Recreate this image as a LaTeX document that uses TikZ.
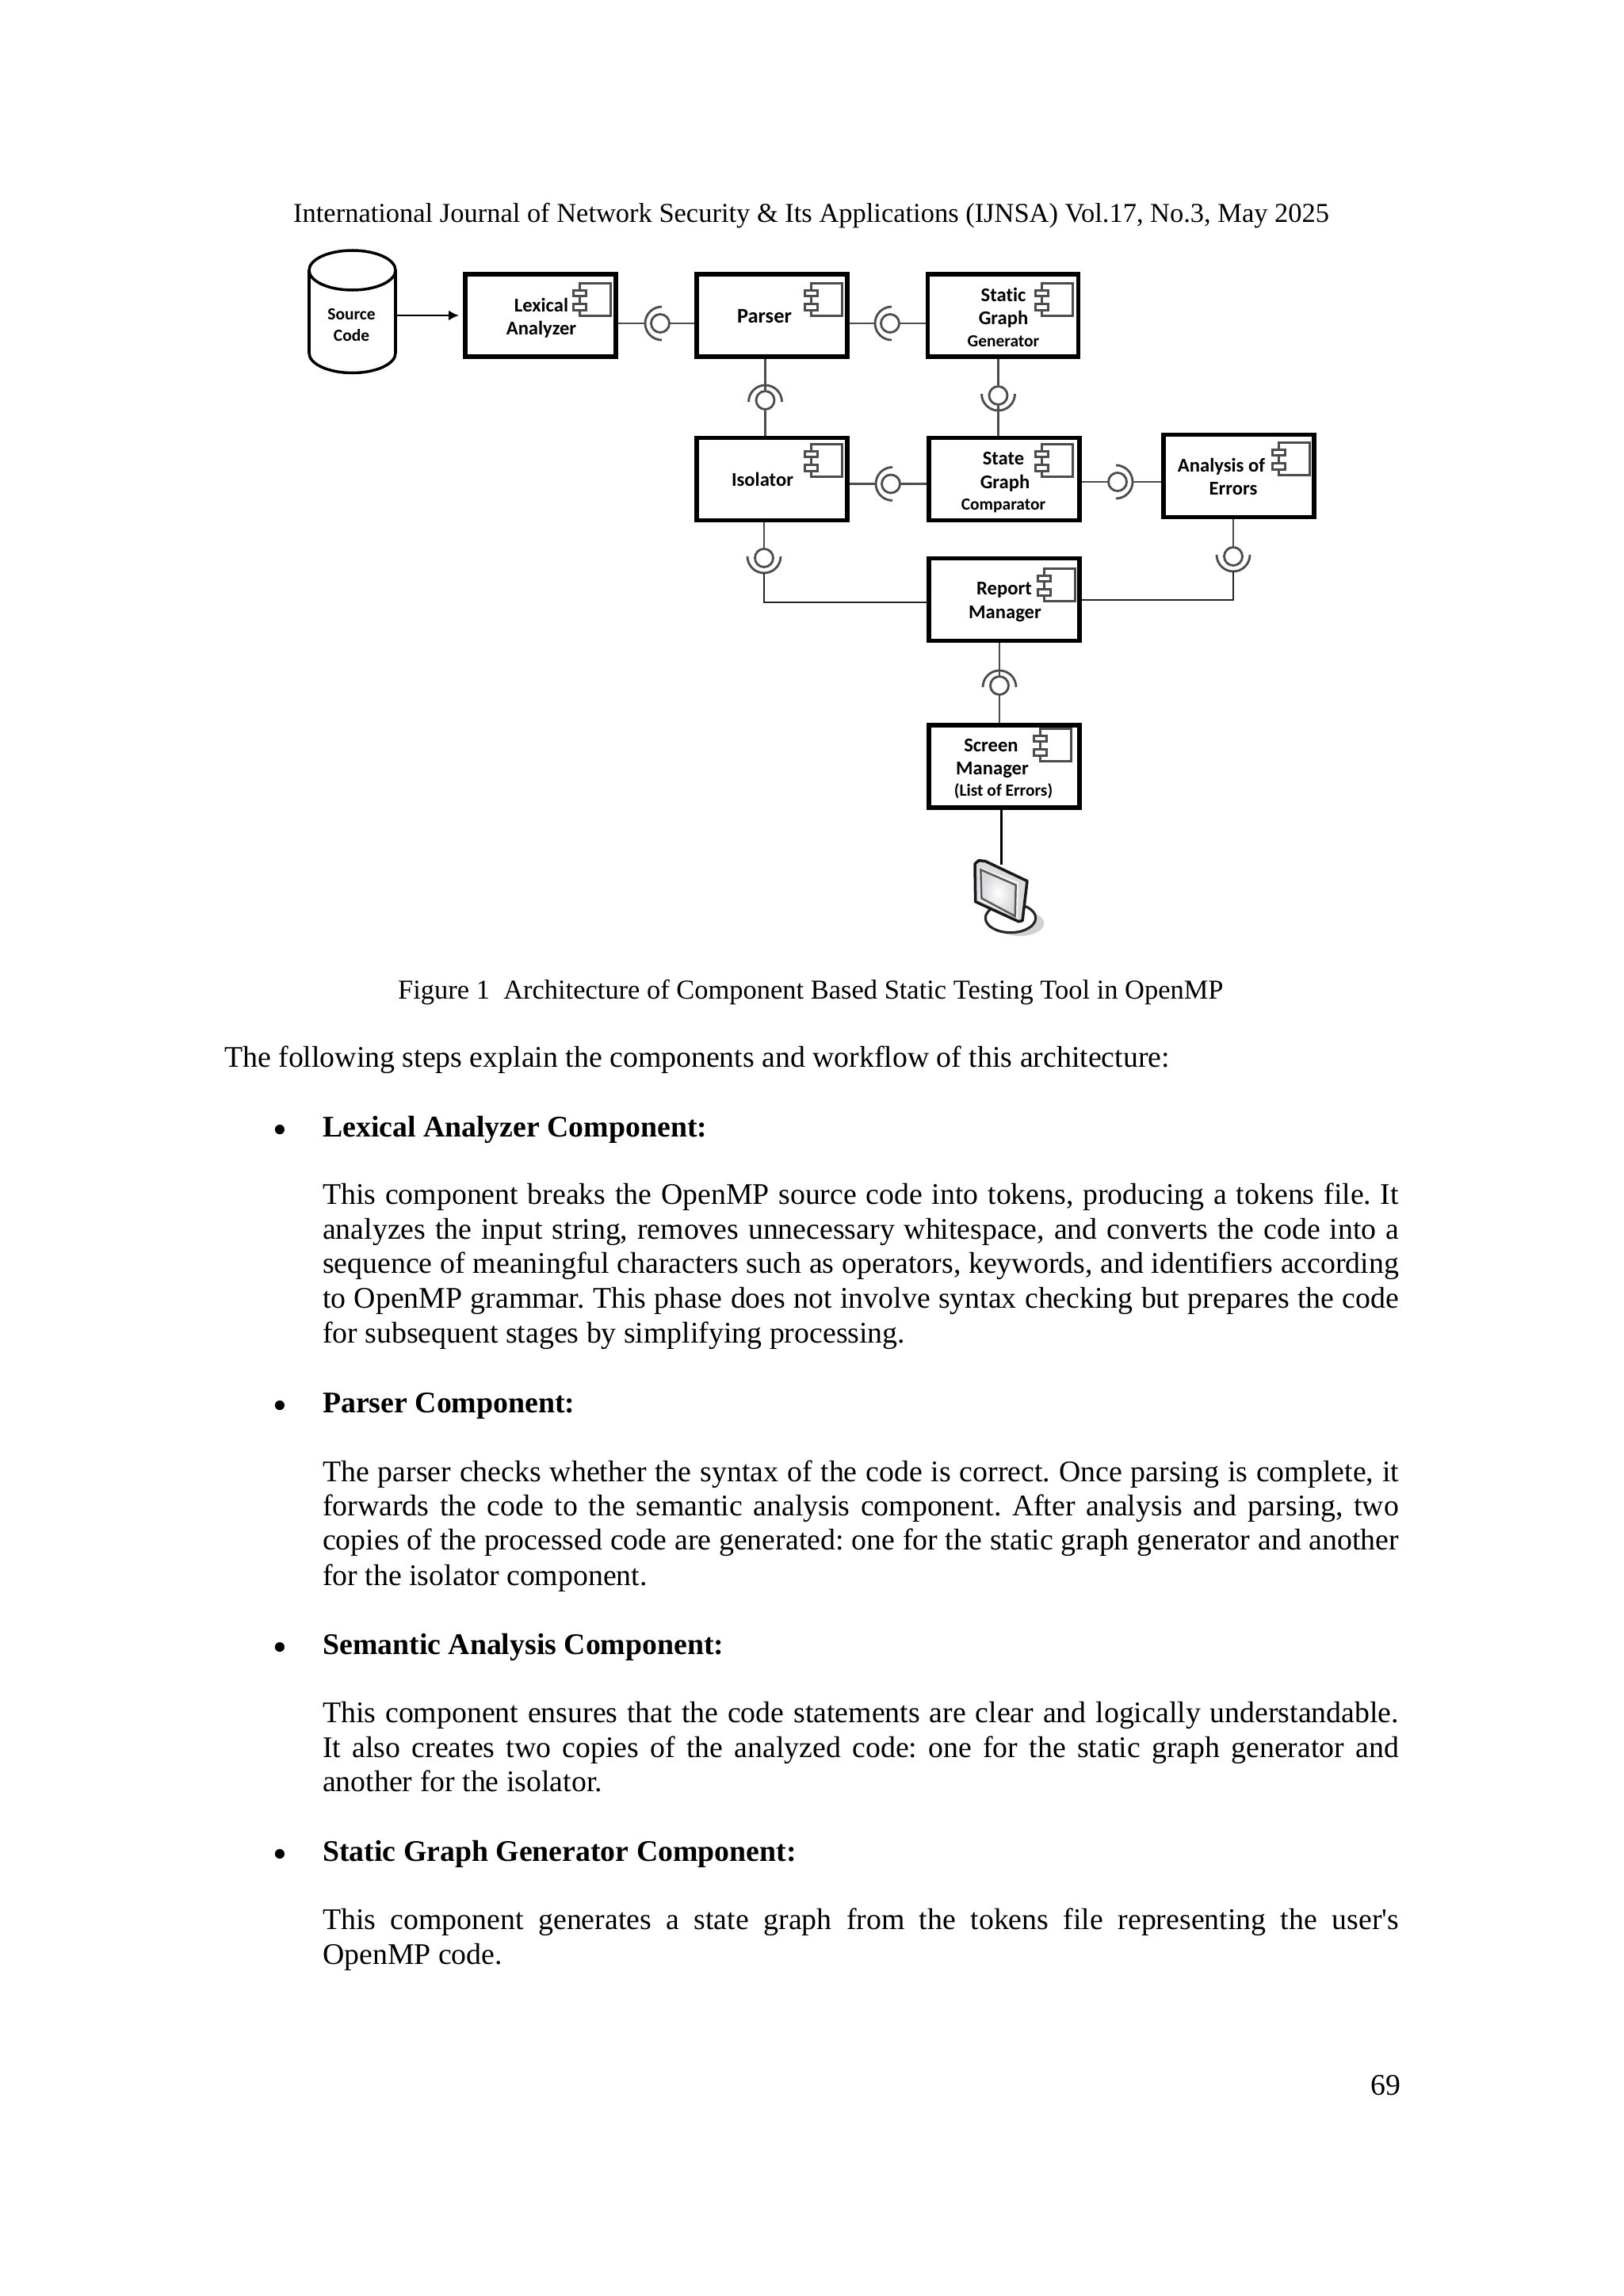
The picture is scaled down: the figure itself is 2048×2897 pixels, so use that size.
\documentclass[tikz,border=0pt]{standalone}
\usepackage{fontspec}
\setmainfont{Liberation Serif}
\newfontfamily\diagfont[Ligatures=NoCommon]{Carlito}
\usetikzlibrary{arrows.meta,positioning}
\frenchspacing
\newcommand{\jline}[1]{\makebox[13.57cm][s]{#1}}
\tikzset{
  compbox/.style={draw=black, line width=1.6pt, minimum width=1.9cm, minimum height=1.04cm, inner sep=0pt},
  link/.style={draw=black!70, line width=0.8pt},
  elbow/.style={draw=black!85, line width=0.8pt},
  drum/.style={draw=black, line width=1pt},
  ball/.style={circle, draw=black!70, line width=0.8pt, minimum size=0.23cm, inner sep=0pt},
  lbl/.style={font=\diagfont\bfseries\fontsize{7}{8}\selectfont, inner sep=0pt, anchor=mid},
  lblsmall/.style={font=\diagfont\bfseries\fontsize{6.1}{7}\selectfont, inner sep=0pt, anchor=mid},
  para/.style={font=\fontsize{10.75}{13}\selectfont, inner sep=0pt, anchor=base west, xshift=-0.015cm, yshift=-0.01cm},
  parasmall/.style={para, font=\fontsize{9.8}{13}\selectfont},
  parahead/.style={para, font=\bfseries\fontsize{10.75}{13}\selectfont},
  dot/.style={para, font=\fontsize{14.5}{15}\selectfont, anchor=base},
  pics/compicon/.style={code={
    \draw[draw=black!70, line width=0.85pt] (-39,9) -- (-39,0) -- (0,0) -- (0,41) -- (-39,41) -- (-39,34);
    \draw[draw=black!70, line width=0.85pt] (-39,16) -- (-39,26);
    \draw[draw=black!70, line width=0.85pt] (-47,9) rectangle (-31,16);
    \draw[draw=black!70, line width=0.85pt] (-47,26) rectangle (-31,34);
  }},
  pics/iface/.style={code={
    \node[ball] (-ball) at (0,0) {};
    \coordinate (-sock) at ({#1}:19);
    \draw[link] ([shift={({#1+180}:2)}]{#1-90}:21) arc[start angle={#1-90}, delta angle=180, radius=21];
  }}
}
\begin{document}
\begin{tikzpicture}[x=0.01cm,y=-0.01cm]
  \useasboundingbox (0,0) rectangle (2048,2897);
  % page text above the figure
  \node[parasmall] (header) at (371,279) {International Journal of Network Security \& Its Applications (IJNSA) Vol.17, No.3, May 2025};
  % boxes
  \node[compbox] (lexical) at (682,398) {};
  \node[compbox] (parser) at (974,398) {};
  \node[compbox] (static) at (1265.5,398) {};
  \node[compbox] (isolator) at (974,604.5) {};
  \node[compbox] (comparator) at (1267,604.5) {};
  \node[compbox] (analysis) at (1563,600.5) {};
  \node[compbox] (report) at (1267,756.5) {};
  \node[compbox] (screen) at (1267,967) {};
  % source drum
  \node[minimum width=1.09cm, minimum height=1.545cm, inner sep=0pt, outer sep=0pt] (source) at (444.5,393.25) {};
  \draw[drum] (444.5,341) ellipse[x radius=54.5, y radius=25];
  \draw[drum] (390,341) -- (390,445.5) arc[start angle=180, delta angle=-180, x radius=54.5, y radius=25] -- (499,341);
  \draw[-{Latex[length=3.7pt,width=3.6pt]}, draw=black, line width=0.8pt, shorten >=1.4pt] (source.east |- lexical.west) -- (lexical.west);
  % component icons
  \pic at ([shift={(-9,14)}]lexical.north east) {compicon};
  \pic at ([shift={(-9,14)}]parser.north east) {compicon};
  \pic at ([shift={(-10,14)}]static.north east) {compicon};
  \pic at ([shift={(-9,11)}]isolator.north east) {compicon};
  \pic at ([shift={(-11,11)}]comparator.north east) {compicon};
  \pic at ([shift={(-8,13)}]analysis.north east) {compicon};
  \pic at ([shift={(-8,16)}]report.north east) {compicon};
  \pic at ([shift={(-13,7)}]screen.north east) {compicon};
  % interfaces
  \pic (lp) at (833,408) {iface=180};
  \pic (ps) at (1123,408) {iface=180};
  \pic (pi) at (965.5,505) {iface=270};
  \pic (sc) at (1259.5,499) {iface=90};
  \pic (ic) at (1124,610.5) {iface=180};
  \pic (ca) at (1410,608) {iface=0};
  \pic (ir) at (964,704) {iface=90};
  \pic (ar) at (1556,702) {iface=90};
  \pic (rs) at (1261,865) {iface=270};
  % connectors
  \draw[link] (lexical.east |- lp-ball) -- (lp-sock);
  \draw[link] (lp-ball) -- (parser.west |- lp-ball);
  \draw[link] (parser.east |- ps-ball) -- (ps-sock);
  \draw[link] (ps-ball) -- (static.west |- ps-ball);
  \draw[link] (pi-ball |- parser.south) -- (pi-ball);
  \draw[link] (pi-ball) -- (pi-ball |- isolator.north);
  \draw[link] (sc-ball |- static.south) -- (sc-ball);
  \draw[link] (sc-ball) -- (sc-ball |- comparator.north);
  \draw[link] (isolator.east |- ic-ball) -- (ic-sock);
  \draw[link] (ic-ball) -- (comparator.west |- ic-ball);
  \draw[link] (comparator.east |- ca-ball) -- (ca-ball);
  \draw[link] (ca-sock) -- (analysis.west |- ca-ball);
  \draw[link] (ir-ball |- isolator.south) -- (ir-ball);
  \draw[link] (ar-ball |- analysis.south) -- (ar-ball);
  \draw[link] (rs-ball |- report.south) -- (rs-ball);
  \draw[link] (rs-ball) -- (rs-ball |- screen.north);
  \coordinate (irbend) at (964,760);
  \coordinate (arbend) at (1556,757);
  \draw[elbow] (ir-sock) -- (irbend) -- (report.west |- irbend);
  \draw[elbow] (ar-sock) -- (arbend) -- (report.east |- arbend);
  \coordinate (monitortop) at (1263.5,1091);
  \draw[draw=black, line width=0.7pt] (monitortop |- screen.south) -- (monitortop);
  % labels
  \node[lblsmall] (sourcea) at (443.5,395) {Source};
  \node[lblsmall] (sourceb) at (443.5,422) {Code};
  \node[lbl] (lexicala) at (683,385) {Lexical};
  \node[lbl] (lexicalb) at (683,414) {Analyzer};
  \node[lbl, font=\diagfont\bfseries\fontsize{7.5}{8}\selectfont] (parsera) at (964.5,399) {Parser};
  \node[lbl] (statica) at (1266,372) {Static};
  \node[lbl] (staticb) at (1266,401) {Graph};
  \node[lblsmall] (staticc) at (1266,429) {Generator};
  \node[lbl] (isolatora) at (962,605) {Isolator};
  \node[lbl] (comparatora) at (1266,578) {State};
  \node[lbl] (comparatorb) at (1268,608) {Graph};
  \node[lblsmall] (comparatorc) at (1266,635) {Comparator};
  \node[lbl] (analysisa) at (1541,587) {Analysis of};
  \node[lbl] (analysisb) at (1556,616) {Errors};
  \node[lbl] (reporta) at (1267,742) {Report};
  \node[lbl] (reportb) at (1268,772) {Manager};
  \node[lbl] (screena) at (1250.5,940) {Screen};
  \node[lbl] (screenb) at (1252,969) {Manager};
  \node[lblsmall] (screenc) at (1266,996) {(List of Errors)};
  % monitor
  \begin{scope}[shift={(1190,1070)},scale=1/3]
    \fill[black!18] (290,285) ellipse[x radius=92, y radius=48];
    \draw[black!85, fill=white, line width=0.9pt] (255,265) ellipse[x radius=95, y radius=55];
    \draw[black!90, fill=black!14, line width=1pt, line join=round] (120,60) -- (135,47) -- (160,50) -- (318,125) -- (300,275) -- (285,278) -- (122,203) -- cycle;
    \fill[black!4] (135,72) -- (285,130) -- (282,268) -- (135,197) -- cycle;
    \draw[black!65, inner color=white, outer color=blue!12!black!16, line width=0.7pt] (142,82) -- (275,140) -- (272,258) -- (145,190) -- cycle;
  \end{scope}
  % page text below the figure
  \node[parasmall] (caption) at (503,1259) {Figure 1\ \ Architecture of Component Based Static Testing Tool in OpenMP};
  \node[para] (intro) at (284,1345) {The following steps explain the components and workflow of this architecture:};
  \foreach \y/\hd in {1441/lexical,1789/parser,2094/semantic,2355/graph}{\node[dot] (bullet\hd) at (355,\y) {\textbullet};}
  \node[parahead] (lexicalhead) at (408,1433) {Lexical Analyzer Component:};
  \node[parahead] (parserhead) at (408,1781) {Parser Component:};
  \node[parahead] (semantichead) at (408,2086) {Semantic Analysis Component:};
  \node[parahead] (graphhead) at (408,2347) {Static Graph Generator Component:};
  \foreach \y/\txt in {1518/{This component breaks the OpenMP source code into tokens, producing a tokens file. It},1562/{analyzes the input string, removes unnecessary whitespace, and converts the code into a},1605/{sequence of meaningful characters such as operators, keywords, and identifiers according},1649/{to OpenMP grammar. This phase does not involve syntax checking but prepares the code}}{\node[para] (lexicalline\y) at (408,\y) {\jline{\txt}};}
  \node[para] (lexicalend) at (408,1693) {for subsequent stages by simplifying processing.};
  \foreach \y/\txt in {1868/{The parser checks whether the syntax of the code is correct. Once parsing is complete, it},1911/{forwards the code to the semantic analysis component. After analysis and parsing, two},1954/{copies of the processed code are generated: one for the static graph generator and another}}{\node[para] (parserline\y) at (408,\y) {\jline{\txt}};}
  \node[para] (parserend) at (408,1999) {for the isolator component.};
  \foreach \y/\txt in {2172/{This component ensures that the code statements are clear and logically understandable.},2216/{It also creates two copies of the analyzed code: one for the static graph generator and}}{\node[para] (semanticline\y) at (408,\y) {\jline{\txt}};}
  \node[para] (semanticend) at (408,2259) {another for the isolator.};
  \node[para] (graphline) at (408,2433) {\jline{This component generates a state graph from the tokens file representing the user\textquotesingle s}};
  \node[para] (graphend) at (408,2477) {OpenMP code.};
  \node[para,anchor=base east] (pagenum) at (1769.5,2642) {69};
\end{tikzpicture}
\end{document}
